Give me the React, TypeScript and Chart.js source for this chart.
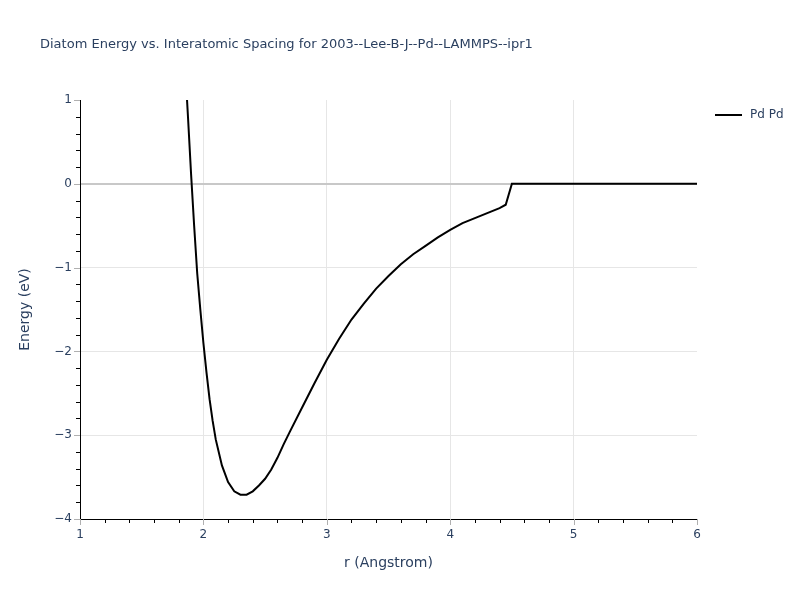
import React, { useEffect, useRef } from "react";
import { Chart, registerables } from "chart.js";

Chart.register(...registerables);

const TITLE = "Diatom Energy vs. Interatomic Spacing for 2003--Lee-B-J--Pd--LAMMPS--ipr1";
const SERIES_NAME = "Pd Pd";
const X_LABEL = "r (Angstrom)";
const Y_LABEL = "Energy (eV)";

const rValues = [
  1.85, 1.875, 1.9, 1.925, 1.95, 1.975, 2.0, 2.025, 2.05, 2.075, 2.1, 2.15, 2.2, 2.25,
  2.3, 2.35, 2.4, 2.45, 2.5, 2.55, 2.6, 2.65, 2.7, 2.8, 2.9, 3.0, 3.1, 3.2, 3.3, 3.4,
  3.5, 3.6, 3.7, 3.8, 3.9, 4.0, 4.1, 4.2, 4.3, 4.4, 4.45, 4.5, 5.0, 5.5, 6.0,
];
const energyValues = [
  1.45, 0.8, 0.12, -0.5, -1.07, -1.5, -1.9, -2.25, -2.57, -2.83, -3.05, -3.36, -3.56, -3.67,
  -3.71, -3.71, -3.67, -3.6, -3.52, -3.41, -3.27, -3.11, -2.96, -2.67, -2.38, -2.1, -1.85, -1.62, -1.43, -1.25,
  -1.1, -0.96, -0.84, -0.74, -0.64, -0.55, -0.47, -0.41, -0.35, -0.29, -0.25, 0, 0, 0, 0,
];

const X_MIN = 1;
const X_MAX = 6;
const Y_MIN = -4;
const Y_MAX = 1;

const TEXT_COLOR = "#2a3f5f";
const FONT = '"DejaVu Sans", verdana, arial, sans-serif';

const decorPlugin = {
  id: "decor",
  afterDraw(chart: any) {
    const ctx = chart.ctx;
    const xs = chart.scales.x;
    const ys = chart.scales.y;
    const area = chart.chartArea;
    ctx.save();
    for (let i = 0; i <= 25; i++) {
      const v = X_MIN + i * 0.2;
      const px = Math.round(xs.getPixelForValue(v)) + 0.5;
      const major = i % 5 === 0;
      ctx.beginPath();
      ctx.strokeStyle = major ? "#b0b0b0" : "#000000";
      ctx.lineWidth = 1;
      ctx.moveTo(px, area.bottom);
      ctx.lineTo(px, area.bottom + (major ? 6 : 4));
      ctx.stroke();
    }
    for (let i = 0; i <= 25; i++) {
      const v = Y_MIN + i * 0.2;
      const py = Math.round(ys.getPixelForValue(v)) + 0.5;
      const major = i % 5 === 0;
      ctx.beginPath();
      ctx.strokeStyle = major ? "#b0b0b0" : "#000000";
      ctx.lineWidth = 1;
      ctx.moveTo(area.left, py);
      ctx.lineTo(area.left - (major ? 6 : 4), py);
      ctx.stroke();
    }
    ctx.fillStyle = TEXT_COLOR;
    ctx.font = `13px ${FONT}`;
    ctx.textAlign = "left";
    ctx.textBaseline = "middle";
    ctx.fillText(TITLE, 40, 45);
    ctx.beginPath();
    ctx.strokeStyle = "#000000";
    ctx.lineWidth = 2;
    ctx.moveTo(715, 115);
    ctx.lineTo(742, 115);
    ctx.stroke();
    ctx.font = `12px ${FONT}`;
    ctx.fillStyle = TEXT_COLOR;
    ctx.fillText(SERIES_NAME, 750, 115);
    ctx.restore();
  },
};

export default function App() {
  const canvasRef = useRef<HTMLCanvasElement | null>(null);

  useEffect(() => {
    if (!canvasRef.current) return;
    const points = rValues.map((r, i) => ({ x: r, y: energyValues[i] }));
    const chart = new Chart(canvasRef.current, {
      type: "line",
      data: {
        datasets: [
          {
            label: SERIES_NAME,
            data: points,
            borderColor: "#000000",
            backgroundColor: "#000000",
            borderWidth: 2,
            pointRadius: 0,
            tension: 0,
            fill: false,
          },
        ],
      },
      options: {
        animation: false,
        responsive: false,
        maintainAspectRatio: false,
        layout: { padding: { top: 100, right: 103, left: 0, bottom: 0 } },
        plugins: {
          legend: { display: false },
          title: { display: false },
          tooltip: { enabled: false },
        },
        scales: {
          x: {
            type: "linear",
            min: X_MIN,
            max: X_MAX,
            afterFit: (s: any) => {
              s.height = 81;
            },
            ticks: {
              stepSize: 1,
              color: TEXT_COLOR,
              font: { family: FONT, size: 12 },
              padding: 9,
              maxRotation: 0,
              callback: (v: any) => String(v).replace("-", "\u2212"),
            },
            grid: {
              drawTicks: false,
              color: (c: any) => {
                const v = c.tick ? c.tick.value : 0;
                return v === X_MIN || v === X_MAX ? "rgba(0,0,0,0)" : "#e6e6e6";
              },
              lineWidth: 1,
            },
            border: { display: true, color: "#000000", width: 1 },
            title: {
              display: true,
              text: X_LABEL,
              color: TEXT_COLOR,
              font: { family: FONT, size: 14 },
              padding: { top: 0, bottom: 28 },
            },
          },
          y: {
            type: "linear",
            min: Y_MIN,
            max: Y_MAX,
            afterFit: (s: any) => {
              s.width = 80;
            },
            ticks: {
              stepSize: 1,
              color: TEXT_COLOR,
              font: { family: FONT, size: 12 },
              padding: 8,
              callback: (v: any) => String(v).replace("-", "\u2212"),
            },
            grid: {
              drawTicks: false,
              color: (c: any) => {
                const v = c.tick ? c.tick.value : 0;
                if (v === Y_MAX || v === Y_MIN) return "rgba(0,0,0,0)";
                if (v === 0) return "#c8c8c8";
                return "#e6e6e6";
              },
              lineWidth: (c: any) => (c.tick && c.tick.value === 0 ? 2 : 1),
            },
            border: { display: true, color: "#000000", width: 1 },
            title: {
              display: true,
              text: Y_LABEL,
              color: TEXT_COLOR,
              font: { family: FONT, size: 14 },
              padding: { top: 17, bottom: 0 },
            },
          },
        },
      },
      plugins: [decorPlugin],
    });
    return () => chart.destroy();
  }, []);

  return (
    <div style={{ position: "fixed", left: 0, top: 0, width: 800, height: 600, background: "#ffffff" }}>
      <canvas ref={canvasRef} width={800} height={600} style={{ width: 800, height: 600 }} />
    </div>
  );
}
